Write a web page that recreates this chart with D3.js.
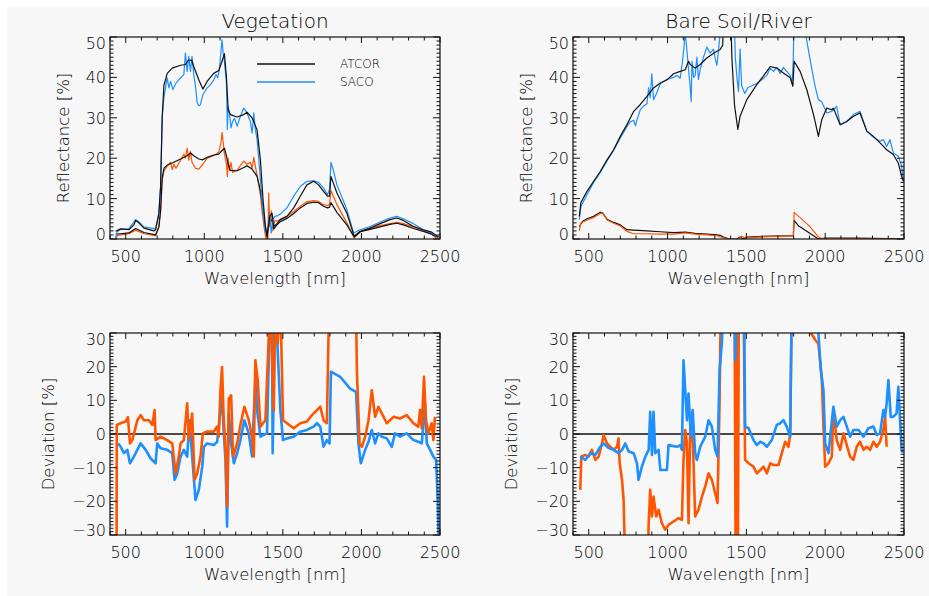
<!DOCTYPE html>
<html>
<head>
<meta charset="utf-8">
<script src="https://cdn.jsdelivr.net/npm/d3@7"></script>
<style>
  body { margin: 0; background: #fff; }
  text { font-family: "DejaVu Sans", "Liberation Sans", sans-serif; font-weight: 200; fill: #000; }
</style>
</head>
<body>
<div class="canvas"></div>
<script>
// tick values
const xTicks = [500, 1000, 1500, 2000, 2500];
const reflTicks = [0, 10, 20, 30, 40, 50];
const devTicks = [-30, -20, -10, 0, 10, 20, 30];

// vegetation pixel, reflectance [%] as [wavelength nm, value]
const vegAtcorHigh = [[436,1.9],[468,2.5],[520,2.3],[552,3.5],[563,4.6],[584,4],[616,2.7],[679,2],[690,2.3],[711,6.4],[722,13],[732,30],[743,38],[764,41],[796,42.3],[849,43],[880,43.2],[900,44.3],[920,44.2],[933,42.7],[965,39.4],[991,37.1],[1018,39],[1060,41],[1092,41.7],[1113,44],[1128,45.9],[1141,40],[1152,32],[1166,30.8],[1209,30.2],[1251,30.8],[1272,31.4],[1304,30],[1336,27],[1357,19.6],[1374,9.7],[1389,3.1],[1399,0.7],[1416,5.6],[1431,6.4],[1442,3.1],[1463,3.8],[1484,4.8],[1526,5.6],[1569,7.7],[1611,10.6],[1653,13.4],[1696,14.3],[1727,13.4],[1759,11.8],[1784,10.6],[1797,10.6],[1806,15.5],[1844,11.4],[1907,6.4],[1954,0.7],[1992,1.9],[2055,2.7],[2119,3.8],[2182,4.8],[2225,5.2],[2267,4.6],[2331,3.1],[2394,2.3],[2447,1.7],[2490,0.5]];
const vegSacoHigh = [[436,0.2],[445,1.8],[468,2.4],[520,2.5],[563,4.8],[584,4.2],[616,3],[690,2.5],[711,6],[722,13],[732,30],[743,35],[764,39.9],[775,37.4],[786,39],[800,37],[820,38.6],[849,39.9],[870,40.7],[880,46],[891,41.5],[901,45.2],[912,41.5],[922,45.2],[933,40.7],[944,37.8],[955,33.7],[965,33],[975,33.2],[991,35.7],[1018,37.4],[1040,38.2],[1060,39.4],[1075,40.7],[1085,39.9],[1096,41.9],[1107,46.9],[1113,49.3],[1120,46],[1128,44],[1141,38.6],[1147,27.1],[1152,32.8],[1160,31.2],[1170,27.5],[1180,29.1],[1192,29.9],[1209,27.9],[1230,30.4],[1251,32.4],[1272,31.2],[1293,29.1],[1304,26.2],[1315,31.2],[1325,27.1],[1336,24.6],[1347,19.6],[1357,14.7],[1370,8.1],[1384,3.1],[1395,1],[1405,2.3],[1416,6.4],[1426,1.5],[1437,4.8],[1448,5.6],[1469,5.8],[1490,6.4],[1526,7.7],[1569,10.6],[1611,13],[1653,14.3],[1696,14.4],[1727,14],[1759,12.6],[1784,11],[1797,12.2],[1806,19],[1820,17.2],[1844,13.4],[1907,7.3],[1950,1.5],[1992,2.3],[2055,3.1],[2119,4.2],[2182,5.2],[2225,5.6],[2267,5],[2331,3.8],[2394,2.3],[2447,1.5],[2490,0.5]];
const vegAtcorLow = [[436,1.2],[468,1.3],[520,1.5],[563,2.6],[616,1.6],[690,1],[711,3],[722,7],[732,15],[743,17.5],[764,18.3],[796,18.8],[849,19.8],[891,20.6],[912,21.3],[933,20.6],[965,19.8],[991,19.6],[1018,20.2],[1060,20.8],[1092,21],[1113,21.9],[1128,22.5],[1141,20.6],[1152,18.5],[1166,17],[1209,16.9],[1251,17.7],[1272,18.1],[1304,17.3],[1336,15.5],[1357,12],[1374,7],[1389,3],[1399,0.7],[1416,5],[1431,4.5],[1442,2.5],[1463,3.5],[1484,4.3],[1526,5.1],[1569,6.3],[1611,7.7],[1653,8.8],[1696,9.1],[1727,9],[1759,8.1],[1784,7.7],[1797,7.9],[1806,9],[1844,6.6],[1907,3.5],[1954,0.5],[1992,1.8],[2055,2.4],[2119,3],[2182,3.6],[2225,3.9],[2267,3.5],[2331,2.6],[2394,1.9],[2447,1.2],[2490,0.4]];
const vegSacoLow = [[436,-0.5],[445,0.8],[468,1],[520,1.3],[563,2.2],[616,1.3],[690,0.8],[711,3],[722,7],[732,14.5],[743,16.8],[764,18],[786,19],[796,17.2],[807,18.5],[820,17.5],[849,19.5],[870,21],[880,20],[891,22.5],[901,19.5],[912,21.7],[922,19],[944,17.5],[965,17.3],[991,18.5],[1018,20],[1060,20.6],[1092,21.5],[1107,24],[1113,26.4],[1120,24],[1128,21],[1141,18.5],[1147,15.5],[1152,20],[1160,17],[1170,19],[1180,16.5],[1209,17],[1230,18.2],[1251,19.3],[1272,18.5],[1293,19],[1304,17.5],[1315,20.2],[1325,18],[1336,15.8],[1357,11],[1370,6],[1384,2],[1395,-0.5],[1405,-0.5],[1410,11.4],[1416,3],[1426,7],[1437,2],[1448,4.5],[1469,4.5],[1490,5],[1526,5.6],[1569,6.8],[1611,8.1],[1653,9.2],[1696,9.5],[1727,9.3],[1759,8.5],[1784,8.3],[1797,8.5],[1806,12],[1844,8.5],[1907,4],[1954,0.3],[1992,1.8],[2055,2.7],[2119,3.3],[2182,3.8],[2225,4.1],[2267,3.8],[2331,3],[2394,2.1],[2447,1.2],[2490,-0.3]];

// bare soil / river pixels, reflectance [%]
const soilAtcor = [[440,5.6],[450,9],[489,11.8],[531,14.3],[573,16.7],[616,19.6],[658,22.1],[700,25.4],[742,28.3],[785,31.6],[827,33.3],[869,35.3],[911,37.4],[954,38.6],[996,39.4],[1038,40.9],[1080,41.5],[1112,41.9],[1133,44],[1144,43.2],[1175,42.3],[1207,43.2],[1249,44.8],[1292,46],[1334,46.9],[1350,48],[1355,56],[1400,56],[1408,45],[1425,33],[1446,27.1],[1460,30.4],[1503,34.5],[1566,38.2],[1630,41.5],[1651,42.7],[1693,42.3],[1735,41.1],[1778,39.9],[1795,37.8],[1803,44],[1841,41.5],[1883,37],[1926,30.8],[1957,25.4],[1978,29.5],[2010,32.4],[2042,32],[2052,32.4],[2095,28.3],[2137,29.1],[2179,30.4],[2221,31.2],[2264,26.7],[2306,25.4],[2348,23.8],[2390,22.1],[2432,20.9],[2464,18.8],[2485,15.5],[2496,14.3]];
const soilSaco = [[440,4.8],[450,8],[489,11],[531,14],[573,16.5],[616,19.3],[658,22],[700,25],[742,27.8],[764,29],[785,29.4],[796,28],[806,29.5],[827,32],[850,33],[869,33.5],[880,37.5],[890,35],[900,40.9],[911,34.5],[930,36],[954,38.5],[975,39],[996,39.5],[1038,40],[1060,40.5],[1080,39.8],[1095,44],[1105,48],[1112,51],[1122,47],[1133,42],[1144,37.4],[1150,34],[1155,44],[1165,40],[1175,40.5],[1186,45],[1196,39.5],[1207,42],[1228,45],[1249,47.5],[1270,46],[1292,47],[1303,44.5],[1313,43],[1324,47],[1334,51],[1340,60],[1419,60],[1430,45],[1440,40],[1450,36.5],[1460,47],[1470,38],[1490,36],[1510,37.5],[1540,38],[1566,38.5],[1600,39.5],[1630,40.5],[1651,42.3],[1672,41.5],[1693,42.5],[1714,41],[1735,42.5],[1756,41.5],[1778,40.5],[1790,38.5],[1798,45],[1803,60],[1875,60],[1879,50],[1904,44.4],[1936,37.8],[1957,34.5],[1978,34],[2010,31.2],[2042,31.6],[2073,32.8],[2095,28.3],[2137,29.1],[2179,30.8],[2221,31.6],[2264,26.7],[2306,25.2],[2348,24.2],[2369,24.6],[2390,22.9],[2411,24.6],[2432,21.3],[2464,20.5],[2485,18],[2496,14.3]];
const riverAtcor = [[440,3.1],[460,4.3],[489,5],[531,5.6],[573,6.6],[590,6.3],[616,4.9],[658,4.1],[700,3.5],[742,2.3],[785,2.2],[869,2],[954,1.8],[1038,1.6],[1112,1.7],[1175,1.4],[1249,1.2],[1313,1],[1334,0.9],[1355,0.5],[1393,0],[1440,0],[1460,0.5],[1480,0],[1500,0.5],[1650,0.7],[1780,0.8],[1798,0.8],[1803,4.6],[1830,3.3],[1900,1.5],[1957,0],[2000,0.2],[2200,0.2],[2400,0.1],[2496,0]];
const riverSaco = [[440,2],[450,4],[489,4.7],[531,5.3],[573,6.3],[590,6.5],[616,4.7],[658,3.9],[700,3.2],[742,1.9],[785,1.3],[869,1.3],[954,1.2],[1038,1.2],[1112,1.5],[1175,1.2],[1249,1],[1313,0.8],[1355,0.3],[1393,0],[1440,-0.3],[1470,0.7],[1490,0.3],[1650,0.6],[1780,0.7],[1798,0.7],[1803,6.6],[1900,3.2],[1957,0.5],[1980,0.1],[2200,0.1],[2400,0],[2496,-0.2]];

// deviation from ATCOR [%], vegetation
const vegDevHigh = [[451,-2.8],[468,-3.8],[489,-5.7],[510,-4.7],[527,-8.7],[552,-6.7],[574,-4.7],[595,-2.8],[627,-4.7],[658,-7.2],[690,-8.7],[701,-2.8],[722,-4.2],[764,-4.7],[796,-5.7],[811,-13.6],[828,-11.7],[849,-6.7],[870,-4.7],[891,-6.7],[906,4.1],[923,-6.7],[944,-19.6],[965,-16.6],[987,-9.7],[997,-3.8],[1018,-2.8],[1060,-3.3],[1082,-2.3],[1103,7.1],[1113,11],[1124,0.2],[1135,-7.7],[1145,-27.5],[1156,6.1],[1171,-2.8],[1188,-8.7],[1209,-5.7],[1230,-1.8],[1255,4.1],[1283,0.2],[1304,-6.7],[1325,17],[1336,7.1],[1357,-0.8],[1399,0.2],[1420,40],[1430,40],[1435,-5.7],[1452,40],[1467,24.9],[1484,7.1],[1501,-1.8],[1526,-1.3],[1569,-0.8],[1611,0.7],[1653,1.2],[1696,2.2],[1717,3.2],[1738,2.2],[1759,-3.8],[1780,-1.8],[1797,-2.8],[1806,18.5],[1865,17],[1928,13.5],[1966,12.5],[1981,-2.8],[1996,-8.7],[2024,-4.7],[2045,-2.3],[2066,1.2],[2087,-2.8],[2108,0.2],[2130,-0.8],[2161,-1.3],[2193,-3.8],[2214,0.2],[2246,-0.8],[2288,0.2],[2331,-1.8],[2362,-2.3],[2384,-2.8],[2405,9.1],[2416,-2.8],[2437,-4.7],[2458,-6.7],[2475,-7.7],[2485,-18.6],[2496,-40]];
const vegDevLow = [[442,-40],[443,2.7],[468,3.2],[499,3.7],[514,5],[527,-2.8],[542,-1.8],[574,4.1],[595,5.6],[616,4.1],[648,4.1],[669,2.7],[684,7.1],[690,-1.8],[722,-0.8],[764,-1.8],[796,-2.8],[817,-11.7],[838,-6.7],[849,-2.8],[870,-1.8],[891,9.1],[902,-1.8],[923,6.1],[938,-13.6],[955,-11.7],[976,-6.7],[991,0.2],[1018,0.7],[1060,0.7],[1082,2.2],[1092,-0.8],[1103,13],[1113,19.9],[1124,4.1],[1135,-4.7],[1145,-21.5],[1156,10.5],[1171,11.5],[1183,-6.7],[1209,-2.8],[1230,2.7],[1255,8.1],[1283,4.1],[1304,-0.8],[1315,-6.7],[1325,21.9],[1340,16],[1357,2.2],[1389,4.1],[1420,40],[1442,7],[1452,40],[1467,26.8],[1484,40],[1501,4.1],[1526,3.2],[1569,1.7],[1611,3.2],[1653,3.7],[1685,5.6],[1717,7.1],[1738,8.1],[1759,4.1],[1780,3.2],[1795,40],[1965,40],[1971,18.9],[1988,-2.8],[2003,-3.8],[2024,-0.8],[2045,4.1],[2066,13],[2087,5.1],[2108,8.1],[2130,6.1],[2161,3.2],[2204,5.1],[2246,4.6],[2288,5.6],[2331,3.2],[2362,2.2],[2373,7.1],[2384,1.7],[2398,17],[2411,4.1],[2426,0.2],[2447,3.2],[2458,-1.8],[2468,5.1]];

// deviation from ATCOR [%], bare soil / river
const soilDevHigh = [[446,-6.7],[478,-7.7],[510,-5.7],[542,-6.2],[573,-3.8],[594,-2.8],[626,-4.2],[658,-4.7],[689,-5.7],[711,-4.7],[732,-2.8],[753,-5.2],[785,-5.7],[806,-8.7],[816,-13.6],[837,-9.7],[859,-6.7],[880,-4.7],[890,6.6],[901,-6.2],[911,6.6],[922,-5.7],[943,-4.7],[954,-10.7],[996,-10.7],[1006,-3.3],[1059,-3.8],[1080,-3.3],[1091,-4.7],[1101,21.9],[1112,13],[1123,4.1],[1133,12],[1148,-0.8],[1159,7.1],[1175,-5.7],[1186,-7.7],[1207,-3.8],[1239,-0.8],[1260,4.1],[1281,2.2],[1302,-4.7],[1317,-6.7],[1330,19],[1344,26.8],[1355,40],[1425,40],[1429,21.9],[1440,40],[1485,40],[1492,2.2],[1514,1.7],[1545,-1.8],[1566,-3.3],[1588,-2.3],[1609,-2.8],[1630,-3.8],[1661,-1.8],[1693,2.7],[1714,3.2],[1735,4.1],[1756,2.2],[1778,-0.8],[1788,40],[1955,40],[1957,30],[1972,19],[1989,13],[2000,-2.8],[2021,-5.7],[2052,8.1],[2073,2.2],[2095,4.1],[2116,5.1],[2137,2.2],[2158,-0.8],[2179,1.2],[2211,1.2],[2243,-0.8],[2274,1.7],[2306,2.2],[2327,-0.3],[2348,0.2],[2369,7.1],[2380,5.1],[2390,9.1],[2401,16],[2416,5.1],[2432,5.1],[2453,6.1],[2464,14],[2474,5.1],[2485,-4.7],[2492,-5.5]];
const soilDevLow = [[446,-16.6],[453,-6.7],[478,-6.2],[499,-6.7],[520,-4.7],[542,-7.7],[563,-6.7],[584,-2.8],[594,-0.3],[616,-2.8],[637,-3.8],[658,-4.7],[679,-3.8],[689,-1.3],[696,-8.7],[711,-13.6],[721,-19.6],[732,-40],[875,-40],[880,-26.5],[890,-16.6],[901,-24.5],[911,-18.6],[928,-24.5],[943,-22.5],[964,-26.5],[985,-28.4],[1006,-27],[1038,-26],[1070,-25],[1091,-25.5],[1101,-7.7],[1112,1.2],[1123,-2.8],[1133,-26.5],[1144,2.2],[1161,-2.8],[1175,-24.5],[1196,-22.5],[1218,-18.6],[1239,-15.6],[1260,-11.7],[1281,-13.6],[1302,-17.6],[1317,-20.5],[1330,10.1],[1338,40],[1425,40],[1432,-40],[1440,40],[1446,-40],[1452,40],[1482,40],[1492,-7.7],[1514,-8.7],[1545,-9.7],[1566,-11.7],[1588,-10.7],[1609,-9.7],[1630,-11.7],[1651,-8.7],[1672,-9.2],[1704,-9.2],[1725,-5.7],[1746,-2.3],[1767,-3.8],[1778,0.2],[1788,40],[1904,40],[1910,30],[1936,28],[1957,26.8],[1978,17],[1989,2.2],[2000,-9.7],[2021,-8.7],[2042,-6.7],[2052,7.1],[2073,-1.8],[2095,-4.7],[2116,0.2],[2137,-3.3],[2158,-6.7],[2179,-7.7],[2200,-3.8],[2221,-2.3],[2243,-4.7],[2264,-3.8],[2285,-4.7],[2306,-2.3],[2327,-3.8],[2348,-2.3],[2369,1.2],[2380,5.1],[2390,-3.8]];

const BLACK = '#111', BLUE = '#1e8fff', ORANGE = '#ff5500';

const width = 929, height = 596;

const svg = d3.select('.canvas')
    .append('svg')
    .attr('width', width)
    .attr('height', height);

// light grey page behind the plots
svg.append('rect')
    .attr('x', 7).attr('y', 7)
    .attr('width', width - 7).attr('height', height - 7)
    .attr('fill', '#f7f7f7');

// one panel: frame, IDL-style ticks on all four sides, labels, clipped lines
function panel(cfg) {
    const x = d3.scaleLinear().domain([400, 2500]).range([cfg.left, cfg.right]);
    const y = d3.scaleLinear().domain(cfg.yDomain).range([cfg.bottom, cfg.top]);
    const g = svg.append('g');

    const clipId = 'clip-' + cfg.id;
    svg.append('clipPath').attr('id', clipId)
        .append('rect')
        .attr('x', cfg.left).attr('y', cfg.top)
        .attr('width', cfg.right - cfg.left).attr('height', cfg.bottom - cfg.top);

    const lines = g.append('g').attr('clip-path', `url(#${clipId})`);
    const line = d3.line().x(d => x(d[0])).y(d => y(d[1]));

    if (cfg.zeroLine) {
        lines.append('line')
            .attr('x1', cfg.left).attr('x2', cfg.right)
            .attr('y1', y(0)).attr('y2', y(0))
            .attr('stroke', BLACK).attr('stroke-width', 1.3);
    }

    cfg.series.forEach(s => {
        lines.append('path')
            .datum(s.data)
            .attr('d', line)
            .attr('fill', 'none')
            .attr('stroke', s.color)
            .attr('stroke-width', s.width)
            .attr('stroke-linejoin', 'round');
    });

    // ticks pointing inwards: x every 100 nm, y every 1 unit
    const xMinor = d3.range(400, 2501, 100);
    const yMinor = d3.range(cfg.yDomain[0], cfg.yDomain[1] + 0.5, 1);
    const ticks = g.append('g').attr('stroke', BLACK).attr('stroke-width', 1);

    xMinor.forEach(v => {
        const len = v % 500 === 0 ? 6 : 3.5;
        ticks.append('line').attr('x1', x(v)).attr('x2', x(v)).attr('y1', cfg.bottom).attr('y2', cfg.bottom - len);
        ticks.append('line').attr('x1', x(v)).attr('x2', x(v)).attr('y1', cfg.top).attr('y2', cfg.top + len);
    });
    yMinor.forEach(v => {
        const len = v % 10 === 0 ? 7 : 3.5;
        ticks.append('line').attr('y1', y(v)).attr('y2', y(v)).attr('x1', cfg.left).attr('x2', cfg.left + len);
        ticks.append('line').attr('y1', y(v)).attr('y2', y(v)).attr('x1', cfg.right).attr('x2', cfg.right - len);
    });

    g.append('rect')
        .attr('x', cfg.left).attr('y', cfg.top)
        .attr('width', cfg.right - cfg.left).attr('height', cfg.bottom - cfg.top)
        .attr('fill', 'none').attr('stroke', BLACK).attr('stroke-width', 1.2);

    // tick labels
    g.selectAll('.xlab').data(xTicks).enter()
        .append('text')
        .attr('x', d => x(d)).attr('y', cfg.bottom + 23)
        .attr('text-anchor', 'middle')
        .attr('font-size', 16)
        .text(d => d);

    g.selectAll('.ylab').data(cfg.yTicks).enter()
        .append('text')
        .attr('x', cfg.left - 4)
        .attr('y', d => Math.min(Math.max(y(d) + 6, cfg.top + 12), cfg.bottom + 1))
        .attr('text-anchor', 'end')
        .attr('font-size', 16)
        .text(d => d < 0 ? '\u2212' + Math.abs(d) : d);

    // axis titles
    g.append('text')
        .attr('x', (cfg.left + cfg.right) / 2).attr('y', cfg.bottom + 45)
        .attr('text-anchor', 'middle')
        .attr('font-size', 16.5)
        .text('Wavelength [nm]');

    g.append('text')
        .attr('transform', `translate(${cfg.yTitleX},${(cfg.top + cfg.bottom) / 2}) rotate(-90)`)
        .attr('text-anchor', 'middle')
        .attr('font-size', 16.5)
        .text(cfg.yTitle);

    if (cfg.title) {
        g.append('text')
            .attr('x', (cfg.left + cfg.right) / 2).attr('y', 28)
            .attr('text-anchor', 'middle')
            .attr('font-size', 20)
            .text(cfg.title);
    }
    return { x, y, g };
}

const thin = 1.2, thick = 2.6;

const tl = panel({
    id: 'veg', left: 110, right: 440, top: 37, bottom: 239,
    yDomain: [0, 50], yTicks: reflTicks, title: 'Vegetation',
    yTitle: 'Reflectance [%]', yTitleX: 69,
    series: [
        { data: vegSacoLow, color: ORANGE, width: thin },
        { data: vegAtcorLow, color: BLACK, width: thin },
        { data: vegSacoHigh, color: BLUE, width: thin },
        { data: vegAtcorHigh, color: BLACK, width: thin }
    ]
});

panel({
    id: 'soil', left: 573, right: 904, top: 37, bottom: 239,
    yDomain: [0, 50], yTicks: reflTicks, title: 'Bare Soil/River',
    yTitle: 'Reflectance [%]', yTitleX: 532,
    series: [
        { data: riverAtcor, color: BLACK, width: thin },
        { data: riverSaco, color: ORANGE, width: thin },
        { data: soilSaco, color: BLUE, width: thin },
        { data: soilAtcor, color: BLACK, width: thin }
    ]
});

panel({
    id: 'vegdev', left: 110, right: 440, top: 333, bottom: 535,
    yDomain: [-30, 30], yTicks: devTicks, zeroLine: true,
    yTitle: 'Deviation [%]', yTitleX: 54,
    series: [
        { data: vegDevHigh, color: BLUE, width: thick },
        { data: vegDevLow, color: ORANGE, width: thick }
    ]
});

panel({
    id: 'soildev', left: 573, right: 904, top: 333, bottom: 535,
    yDomain: [-30, 30], yTicks: devTicks, zeroLine: true,
    yTitle: 'Deviation [%]', yTitleX: 517,
    series: [
        { data: soilDevLow, color: ORANGE, width: thick },
        { data: soilDevHigh, color: BLUE, width: thick }
    ]
});

// legend in the vegetation panel
const legend = tl.g.append('g');
[['ATCOR', BLACK, 64], ['SACO', BLUE, 82]].forEach(([name, color, ly]) => {
    legend.append('line')
        .attr('x1', 257).attr('x2', 315).attr('y1', ly).attr('y2', ly)
        .attr('stroke', color).attr('stroke-width', 1.3);
    legend.append('text')
        .attr('x', 340).attr('y', ly + 4)
        .attr('font-size', 12)
        .text(name);
});
</script>
</body>
</html>
